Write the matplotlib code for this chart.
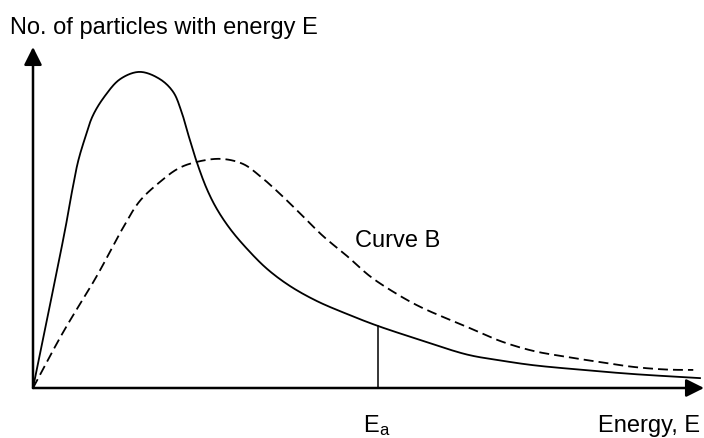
import matplotlib.pyplot as plt
import numpy as np

plt.rcParams['font.family'] = ['Liberation Sans', 'DejaVu Sans']

# curve A (solid): energy vs number of particles
energy_a = [0.00, 0.48, 0.58, 0.67, 0.77, 0.89, 1.07, 1.30, 1.59, 1.89, 2.09,
            2.21, 2.32, 2.44, 2.59, 2.74, 2.94, 3.19, 3.49, 3.83, 4.23, 4.68,
            5.14, 5.77, 6.47, 6.96, 7.45, 8.20, 8.94, 9.94]
count_a = [0.00, 4.66, 5.75, 6.63, 7.30, 7.98, 8.56, 9.06, 9.27, 9.06, 8.68,
           8.12, 7.39, 6.63, 5.84, 5.25, 4.66, 4.08, 3.49, 2.99, 2.55, 2.17,
           1.82, 1.41, 0.98, 0.81, 0.67, 0.53, 0.41, 0.29]

# curve B (dashed)
energy_b = [0.00, 0.45, 0.95, 1.33, 1.59, 1.89, 2.15, 2.38, 2.79, 3.13, 3.38,
            3.65, 3.96, 4.32, 4.68, 5.02, 5.37, 5.77, 6.47, 6.96, 7.45, 7.96,
            8.45, 8.94, 9.45, 9.84]
count_b = [0.00, 1.64, 3.28, 4.66, 5.48, 6.04, 6.42, 6.60, 6.72, 6.57, 6.22,
           5.75, 5.16, 4.46, 3.87, 3.28, 2.82, 2.38, 1.79, 1.38, 1.09, 0.91,
           0.76, 0.62, 0.54, 0.53]

e_act = 5.14  # activation energy marker
axis_len = 10.0


def smooth(x, y, n=16):
    # centripetal catmull-rom through the read points, only for drawing
    p = np.column_stack([x, y]) * [1.0, 0.5]
    p = np.vstack([2 * p[0] - p[1], p, 2 * p[-1] - p[-2]])
    out = [p[1]]
    for i in range(1, len(p) - 2):
        p0, p1, p2, p3 = p[i - 1], p[i], p[i + 1], p[i + 2]
        t0 = 0.0
        t1 = t0 + np.linalg.norm(p1 - p0) ** 0.5
        t2 = t1 + np.linalg.norm(p2 - p1) ** 0.5
        t3 = t2 + np.linalg.norm(p3 - p2) ** 0.5
        for t in np.linspace(t1, t2, n)[1:]:
            a1 = (t1 - t) / (t1 - t0) * p0 + (t - t0) / (t1 - t0) * p1
            a2 = (t2 - t) / (t2 - t1) * p1 + (t - t1) / (t2 - t1) * p2
            a3 = (t3 - t) / (t3 - t2) * p2 + (t - t2) / (t3 - t2) * p3
            b1 = (t2 - t) / (t2 - t0) * a1 + (t - t0) / (t2 - t0) * a2
            b2 = (t3 - t) / (t3 - t1) * a2 + (t - t1) / (t3 - t1) * a3
            out.append((t2 - t) / (t2 - t1) * b1 + (t - t1) / (t2 - t1) * b2)
    out = np.array(out) / [1.0, 0.5]
    return out[:, 0], out[:, 1]


fig = plt.figure(figsize=(7.04, 4.39), dpi=100)
ax = fig.add_axes([0, 0, 1, 1])
ax.set_xlim(-33 / 67.1, 671 / 67.1)
ax.set_ylim(-50 / 34.1, 389 / 34.1)
ax.axis('off')

xa, ya = smooth(energy_a, count_a)
xb, yb = smooth(energy_b, count_b)
ax.plot(xa, ya, color='black', lw=1.3, solid_joinstyle='round')
ax.plot(xb, yb, color='black', lw=1.3, dashes=(5.5, 2.8))

# vertical line at Ea up to curve A
ea_h = np.interp(e_act, energy_a, count_a)
ax.plot([e_act, e_act], [0, ea_h], color='black', lw=1.1)

# axes with arrow heads
arrow = dict(arrowstyle='-|>', mutation_scale=27, lw=1.8, color='black',
             shrinkA=0, shrinkB=0)
ax.annotate('', xy=(0, axis_len), xytext=(0, 0), arrowprops=arrow,
            annotation_clip=False)
ax.annotate('', xy=(axis_len, 0), xytext=(0, 0), arrowprops=arrow,
            annotation_clip=False)

W, H = 704, 439
fs = 17
fig.text(10 / W, 1 - 34 / H, 'No. of particles with energy E', fontsize=fs,
         va='baseline', ha='left')
fig.text(355 / W, 1 - 247 / H, 'Curve B', fontsize=fs, va='baseline', ha='left')
fig.text(363 / W, 1 - 432 / H, 'E', fontsize=fs, va='baseline', ha='left')
fig.text(379 / W, 1 - 435 / H, 'a', fontsize=12, va='baseline', ha='left')
fig.text(598 / W, 1 - 432 / H, 'Energy, E', fontsize=fs, va='baseline', ha='left')

fig.savefig('out.png', dpi=100)
